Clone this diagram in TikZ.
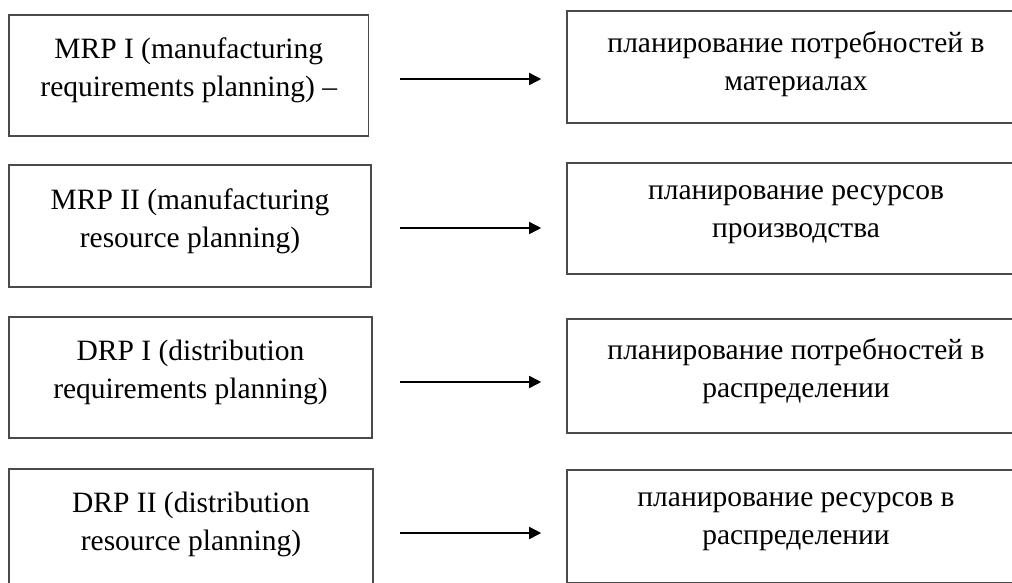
\documentclass[tikz,border=0pt]{standalone}
\usepackage{fontspec}
\setmainfont{Liberation Serif}
\usetikzlibrary{arrows.meta}
\definecolor{boxline}{HTML}{4A4A4A}
\tikzset{
  box/.style={draw=boxline, line width=1.6pt, rectangle, inner sep=0pt, fill=none},
  lbl/.style={align=center, inner sep=0pt, font=\fontsize{29.5}{38}\selectfont, text=black},
  arr/.style={draw=black, line width=1.6pt, -{Triangle[length=12pt,width=12pt]}},
}
\begin{document}
\begin{tikzpicture}[x=1pt,y=-1pt]
\useasboundingbox (0,0) rectangle (1012,582);
\fill[white] (0,0) rectangle (1012,582);
\clip (0,0) rectangle (1012,582);
% left boxes
\node[box, minimum width=359.5pt, minimum height=121pt] (L1) at (188.75,75.5) {};
\node[box, minimum width=362pt, minimum height=122pt] (L2) at (190,226) {};
\node[box, minimum width=363pt, minimum height=121pt] (L3) at (190.5,377.5) {};
\node[box, minimum width=364pt, minimum height=121pt] (L4) at (191,529.5) {};
% right boxes
\node[box, minimum width=458pt, minimum height=112pt] (R1) at (796,67) {};
\node[box, minimum width=458pt, minimum height=111pt] (R2) at (796,218.5) {};
\node[box, minimum width=458pt, minimum height=114pt] (R3) at (796,376) {};
\node[box, minimum width=458pt, minimum height=113pt] (R4) at (796,526.5) {};
% texts
\node[lbl] (L1t) at ([shift={(0,56.5)}]L1.north) {MRP I (manufacturing\\requirements planning) –};
\node[lbl] (L2t) at ([shift={(0,57.5)}]L2.north) {MRP II (manufacturing\\resource planning)};
\node[lbl] (L3t) at ([shift={(0,56.5)}]L3.north) {DRP I (distribution\\requirements planning)};
\node[lbl] (L4t) at ([shift={(0,56.5)}]L4.north) {DRP II (distribution\\resource planning)};
\node[lbl] (R1t) at ([shift={(0,53.5)}]R1.north) {планирование потребностей в\\материалах};
\node[lbl] (R2t) at ([shift={(0,52)}]R2.north) {планирование ресурсов\\производства};
\node[lbl] (R3t) at ([shift={(0,53)}]R3.north) {планирование потребностей в\\распределении};
\node[lbl] (R4t) at ([shift={(0,52)}]R4.north) {планирование ресурсов в\\распределении};
% arrows
\coordinate (a1) at (400,79);
\coordinate (a2) at (400,228);
\coordinate (a3) at (400,382);
\coordinate (a4) at (400,533);
\draw[arr, shorten >=25pt] (a1) -- (R1.west |- a1);
\draw[arr, shorten >=25pt] (a2) -- (R2.west |- a2);
\draw[arr, shorten >=25pt] (a3) -- (R3.west |- a3);
\draw[arr, shorten >=25pt] (a4) -- (R4.west |- a4);
\end{tikzpicture}
\end{document}
